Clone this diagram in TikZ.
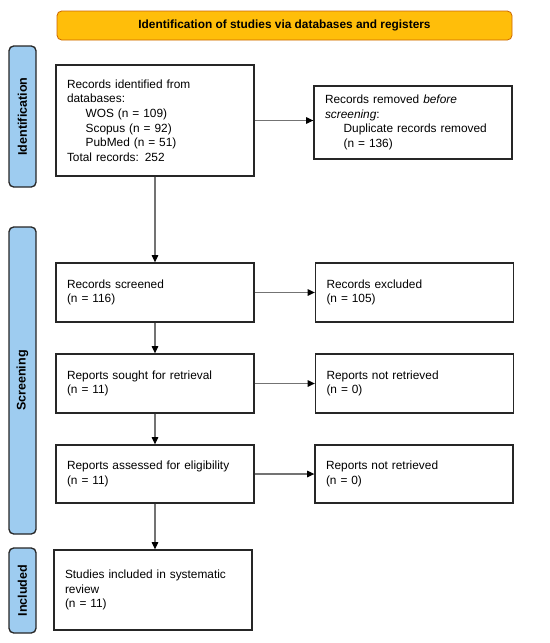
\documentclass[tikz,border=0pt]{standalone}
\usepackage{fontspec}
\setmainfont{Liberation Sans}
\usetikzlibrary{arrows.meta}

\definecolor{phaseblue}{RGB}{158,204,240}
\definecolor{bannerorange}{RGB}{255,190,10}

\begin{document}
\begin{tikzpicture}[x=0.75pt, y=-0.75pt,
	every node/.style={font=\fontsize{8.9}{10.9}\selectfont},
	box/.style={draw=black!85, line width=1pt, align=left, text width=132pt, inner xsep=8.25pt, minimum height=#1},
	box/.default=44.25pt,
	phase/.style={draw=black!85, line width=1pt, fill=phaseblue, rounded corners=3.5pt, rotate=90, minimum width=#1, minimum height=20.25pt, inner sep=0pt, font=\fontsize{9.4}{11}\selectfont\bfseries},
	flow/.style={draw=black!55, line width=0.8pt, -{Triangle[black, length=5.5pt, width=5pt]}}]
	\useasboundingbox (0,0) rectangle (550,643);
	% heading and phases
	\node[draw=orange!80!black, line width=0.6pt, fill=bannerorange, rounded corners=3.5pt, minimum width=341.25pt, minimum height=21.75pt, inner sep=0pt, font=\fontsize{8.9}{10.9}\selectfont\bfseries] (banner) at (284.5,25.5) {Identification of studies via databases and registers};
	\node[phase=105.75pt] (ph1) at (22.5,116.5) {Identification};
	\node[phase=230.25pt] (ph2) at (22.5,380.5) {Screening};
	\node[phase=63.75pt] (ph3) at (22.5,590.5) {Included};
	% left column
	\node[box=83.25pt] (ident) at (155,120.5) {Records identified from\\ databases:\\ \hspace*{14pt}WOS (n = 109)\\ \hspace*{14pt}Scopus (n = 92)\\ \hspace*{14pt}PubMed (n = 51)\\ Total records: 252};
	\node[box] (screened) at (155,292.5) {Records screened\\ (n = 116)};
	\node[box] (sought) at (155,383.5) {Reports sought for retrieval\\ (n = 11)};
	\node[box=43.5pt] (assessed) at (155,474) {Reports assessed for eligibility\\ (n = 11)};
	\node[box=60pt] (studies) at (153,590) {Studies included in systematic\\ review\\ (n = 11)};
	% right column
	\node[box=54.75pt] (removed) at (413,122.5) {Records removed \textit{before}\\ \textit{screening}:\\ \hspace*{14pt}Duplicate records removed\\ \hspace*{14pt}(n = 136)};
	\node[box] (excluded) at (414.5,292.5) {Records excluded\\ (n = 105)};
	\node[box] (notret1) at (414.5,383.5) {Reports not retrieved\\ (n = 0)};
	\node[box=43.5pt] (notret2) at (414,474) {Reports not retrieved\\ (n = 0)};
	% connectors
	\draw[flow] (ident.east) -- (ident.east -| removed.west);
	\draw[flow] (ident.south) -- (ident.south |- screened.north);
	\draw[flow] (screened.east) -- (excluded.west);
	\draw[flow] (screened.south) -- (sought.north);
	\draw[flow] (sought.east) -- (notret1.west);
	\draw[flow] (sought.south) -- (assessed.north);
	\draw[flow] (assessed.east) -- (notret2.west);
	\draw[flow] (assessed.south) -- (assessed.south |- studies.north);
\end{tikzpicture}
\end{document}
